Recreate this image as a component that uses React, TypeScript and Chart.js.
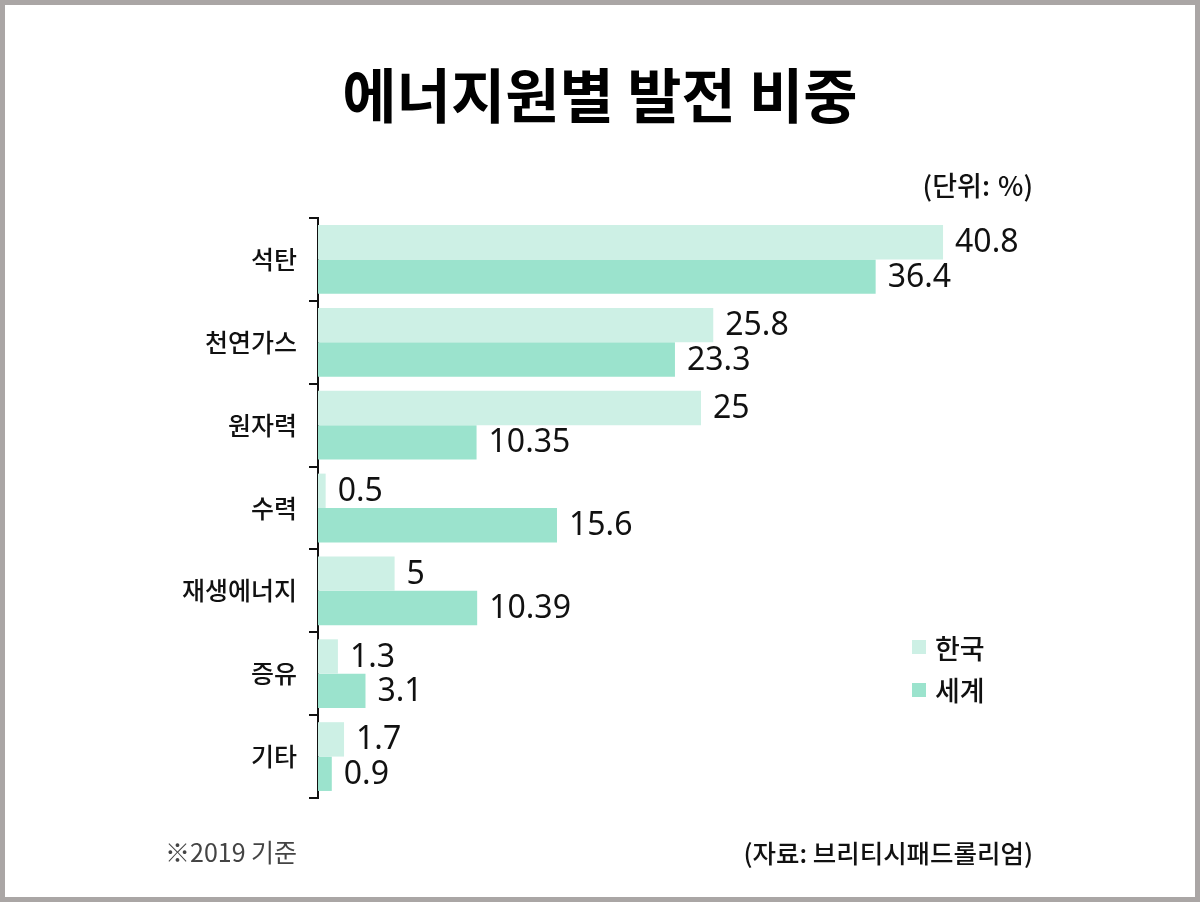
import React, { useEffect, useRef } from "react";
import { Chart, registerables } from "chart.js";

Chart.register(...registerables);

const categories = ["석탄", "천연가스", "원자력", "수력", "재생에너지", "증유", "기타"];
const koreaValues = [40.8, 25.8, 25, 0.5, 5, 1.3, 1.7];
const worldValues = [36.4, 23.3, 10.35, 15.6, 10.39, 3.1, 0.9];
const seriesNames = ["한국", "세계"];

const LIGHT = "#cdf0e5";
const DARK = "#9be3cd";
const KR = "'Noto Sans CJK KR', 'Noto Sans', sans-serif";

const valueLabelPlugin = {
  id: "valueLabels",
  afterDatasetsDraw(chart: any) {
    const ctx = chart.ctx;
    ctx.save();
    ctx.font = "400 32px 'Noto Sans', 'Noto Sans CJK KR', sans-serif";
    ctx.fillStyle = "#111";
    ctx.textAlign = "left";
    ctx.textBaseline = "middle";
    chart.data.datasets.forEach((ds: any, di: number) => {
      const meta = chart.getDatasetMeta(di);
      meta.data.forEach((bar: any, i: number) => {
        ctx.fillText(String(ds.data[i]), bar.x + 12, bar.y + 1);
      });
    });
    ctx.restore();
  },
};

export default function App() {
  const ref = useRef<HTMLCanvasElement>(null);
  useEffect(() => {
    if (!ref.current) return;
    const chart = new Chart(ref.current, {
      type: "bar",
      data: {
        labels: categories,
        datasets: [
          { label: seriesNames[0], data: koreaValues, backgroundColor: LIGHT, borderWidth: 0 },
          { label: seriesNames[1], data: worldValues, backgroundColor: DARK, borderWidth: 0 },
        ],
      },
      options: {
        indexAxis: "y",
        responsive: false,
        animation: false,
        layout: { padding: { top: 218, bottom: 104, right: 116, left: 0 } },
        datasets: { bar: { categoryPercentage: 0.83, barPercentage: 1 } },
        plugins: { legend: { display: false }, tooltip: { enabled: false }, title: { display: false } },
        scales: {
          x: { display: false, min: 0, max: 50 },
          y: {
            grid: {
              display: true,
              drawOnChartArea: false,
              drawTicks: true,
              tickLength: 9,
              color: "#111",
              lineWidth: 2,
              offset: true,
            },
            border: { display: true, color: "#111", width: 2 },
            ticks: {
              padding: 12,
              color: "#111",
              font: { family: KR, size: 25, weight: 500 },
            },
            afterFit(scale: any) {
              scale.width = 318;
            },
          },
        },
      } as any,
      plugins: [valueLabelPlugin],
    });
    return () => chart.destroy();
  }, []);

  const abs = (s: React.CSSProperties): React.CSSProperties => ({ position: "absolute", margin: 0, whiteSpace: "nowrap", ...s });

  return (
    <div style={{ position: "fixed", left: 0, top: 0, width: 1200, height: 902, background: "#fff", overflow: "hidden", fontFamily: KR }}>
      <canvas ref={ref} width={1200} height={902} style={{ position: "absolute", left: 0, top: 0, width: 1200, height: 902 }} />
      <div style={abs({ left: 0, top: 63, width: 1200, textAlign: "center", fontSize: 59, fontWeight: 700, lineHeight: "59px", color: "#000" })}>
        에너지원별 발전 비중
      </div>
      <div style={abs({ right: 167, top: 171, fontSize: 27, lineHeight: "27px", color: "#111", fontWeight: 500, wordSpacing: 2 })}>(단위: %)</div>
      <div style={abs({ left: 912, top: 640, width: 14, height: 14, background: LIGHT })} />
      <div style={abs({ left: 935, top: 634, fontSize: 27, lineHeight: "27px", color: "#111", fontWeight: 500 })}>{seriesNames[0]}</div>
      <div style={abs({ left: 912, top: 683, width: 14, height: 14, background: DARK })} />
      <div style={abs({ left: 935, top: 676, fontSize: 27, lineHeight: "27px", color: "#111", fontWeight: 500 })}>{seriesNames[1]}</div>
      <div style={abs({ left: 165, top: 839, fontSize: 25, lineHeight: "25px", color: "#444" })}>※2019 기준</div>
      <div style={abs({ right: 167, top: 839, fontSize: 25.5, lineHeight: "25px", color: "#111", fontWeight: 500 })}>(자료: 브리티시패드롤리엄)</div>
      <div style={abs({ left: 0, top: 0, width: 1200, height: 902, boxSizing: "border-box", border: "5px solid #aaa6a5", pointerEvents: "none" })} />
    </div>
  );
}
